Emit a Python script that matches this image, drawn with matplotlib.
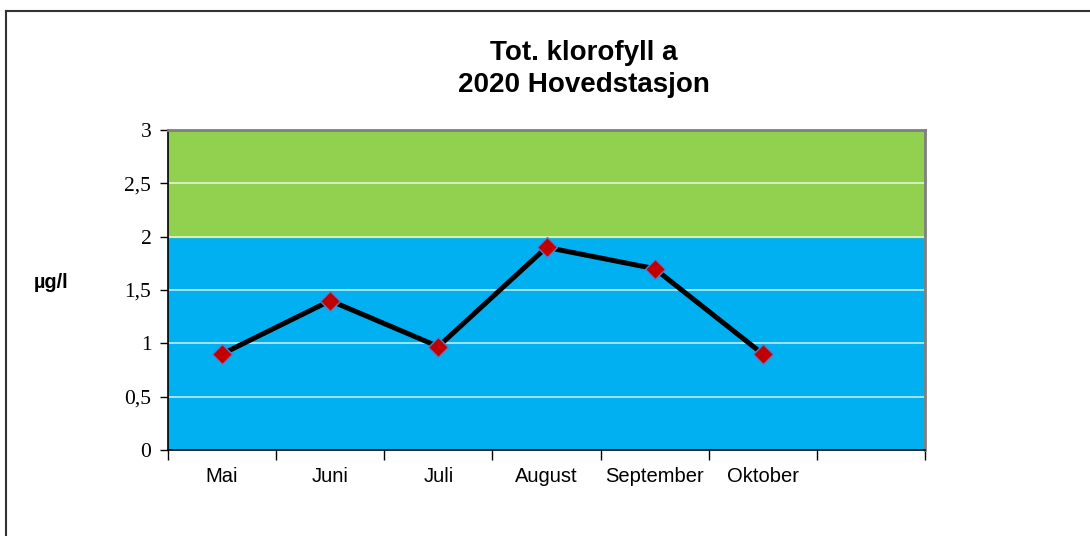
import matplotlib.pyplot as plt
from matplotlib.lines import Line2D
import numpy as np

months = ['Mai', 'Juni', 'Juli', 'August', 'September', 'Oktober']
klorofyll = [0.9, 1.4, 0.97, 1.9, 1.7, 0.9]
n_slots = 7  # one empty category at the end
yticks = [0, 0.5, 1, 1.5, 2, 2.5, 3]
ytick_labels = ['0', '0,5', '1', '1,5', '2', '2,5', '3']

fig = plt.figure(figsize=(10.9, 5.36), dpi=100)
ax = fig.add_axes([168 / 1090, 86 / 536, 757 / 1090, 320 / 536])

# background bands
ax.axhspan(0, 2, color='#00B0F0', zorder=0)
ax.axhspan(2, 3, color='#92D050', zorder=0)
for y in [0.5, 1, 1.5, 2, 2.5]:
    ax.axhline(y, color='white', lw=1.2, alpha=0.75, zorder=1)

x = np.arange(len(months)) + 0.5
ax.plot(x, klorofyll, color='black', lw=3.6, zorder=2)
ax.plot(x, klorofyll, ls='none', marker='D', ms=10, mfc='#C00000',
        mec='#5B7BC8', mew=1.0, zorder=3)

ax.set_xlim(0, n_slots)
ax.set_ylim(0, 3)
ax.set_yticks(yticks)
ax.set_yticklabels(ytick_labels, fontfamily='Liberation Serif', fontsize=15.5)
ax.tick_params(axis='y', length=6, width=1, direction='out', pad=6)

ax.set_xticks(np.arange(n_slots + 1))
ax.set_xticklabels([])
ax.set_xticks(x, minor=True)
ax.set_xticklabels(months, minor=True, fontfamily='Liberation Sans', fontsize=14.5)
ax.tick_params(axis='x', which='major', length=7, width=1, direction='out')
ax.tick_params(axis='x', which='minor', length=0, pad=12)

for s in ['left', 'bottom']:
    ax.spines[s].set_color('black')
    ax.spines[s].set_linewidth(1.2)
for s in ['top', 'right']:
    ax.spines[s].set_color('#808080')
    ax.spines[s].set_linewidth(2)

fig.text(584 / 1090, 1 - 69 / 536, 'Tot. klorofyll a\n2020 Hovedstasjon', ha='center',
         va='center', fontsize=20, fontweight='bold', fontfamily='Liberation Sans',
         linespacing=1.32)
fig.text(51 / 1090, 1 - 283 / 536, 'µg/l', ha='center', va='center', fontsize=14.3,
         fontweight='bold', fontfamily='Liberation Sans')

# outer chart frame
fig.add_artist(Line2D([6 / 1090, 1], [1 - 11 / 536, 1 - 11 / 536], color='#333333', lw=1.5))
fig.add_artist(Line2D([6 / 1090, 6 / 1090], [0, 1 - 11 / 536], color='#333333', lw=1.5))

fig.savefig('out.png', dpi=100)
